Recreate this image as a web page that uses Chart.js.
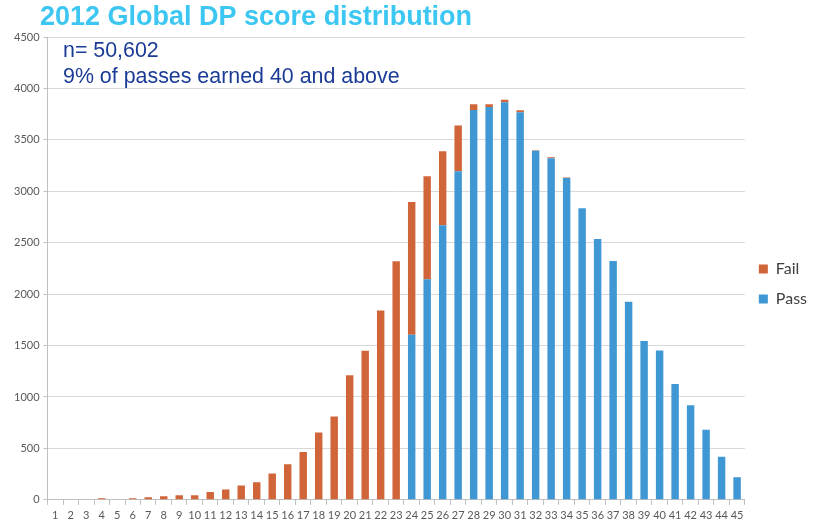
<!DOCTYPE html>
<html>
<head>
<meta charset="utf-8">
<script src="https://cdn.jsdelivr.net/npm/chart.js@4/dist/chart.umd.min.js"></script>
<style>
  body { margin: 0; background: #fff; }
  #wrap { width: 829px; height: 526px; }
</style>
</head>
<body>
<div id="wrap"><canvas id="myChart" width="829" height="526"></canvas></div>
<script>
// scores 1..45
var scores = ["1","2","3","4","5","6","7","8","9","10","11","12","13","14","15",
	"16","17","18","19","20","21","22","23","24","25","26","27","28","29","30",
	"31","32","33","34","35","36","37","38","39","40","41","42","43","44","45"];

var fail_counts = [0, 5, 5, 15, 5, 15, 25, 35, 45, 45, 75, 100, 140, 170, 255,
	345, 465, 655, 810, 1210, 1450, 1840, 2320, 1290, 1000, 720, 445, 55, 25, 25,
	20, 5, 10, 5, 0, 0, 0, 0, 0, 0, 0, 0, 0, 0, 0];

var pass_counts = [0, 0, 0, 0, 0, 0, 0, 0, 0, 0, 0, 0, 0, 0, 0,
	0, 0, 0, 0, 0, 0, 0, 0, 1605, 2145, 2670, 3195, 3790, 3820, 3865,
	3768, 3395, 3320, 3128, 2835, 2535, 2323, 1925, 1545, 1452, 1126, 920, 680, 419, 220];

var y_ticks = [0, 500, 1000, 1500, 2000, 2500, 3000, 3500, 4000, 4500];

var chart_title = "2012 Global DP score distribution";
var note_lines = ["n= 50,602", "9% of passes earned 40 and above"];

// title + note drawn on top of the canvas
var textPlugin = {
	id: 'textPlugin',
	afterDraw: function(chart) {
		var c = chart.ctx;
		c.save();
		c.textBaseline = 'middle';
		c.textAlign = 'left';
		c.font = 'bold 27px "Liberation Sans", Arial, sans-serif';
		c.fillStyle = '#3cc6f2';
		c.fillText(chart_title, 40, 18);
		c.font = '21.4px "Liberation Sans", Arial, sans-serif';
		c.fillStyle = '#1b3c96';
		c.fillText(note_lines[0], 63, 51);
		c.fillText(note_lines[1], 63, 77);
		c.restore();
	}
};

var ctx = document.getElementById("myChart");
var myChart = new Chart(ctx, {
	type: 'bar',
	plugins: [textPlugin],
	data: {
		labels: scores,
		datasets: [{
			label: 'Pass',
			data: pass_counts,
			backgroundColor: '#3f97d4',
			barPercentage: 0.48,
			categoryPercentage: 1.0
		}, {
			label: 'Fail',
			data: fail_counts,
			backgroundColor: '#d1653a',
			barPercentage: 0.48,
			categoryPercentage: 1.0
		}]
	},
	options: {
		responsive: false,
		animation: false,
		layout: {
			padding: { top: 37, left: 10, right: 12, bottom: 0 }
		},
		plugins: {
			title: { display: false },
			tooltip: { enabled: false },
			legend: {
				position: 'right',
				reverse: true,
				title: { display: true, text: '', padding: 0, font: { size: 4 } },
				labels: {
					boxWidth: 9,
					boxHeight: 9,
					padding: 14,
					color: '#404040',
					font: { family: 'Lato', size: 16 }
				}
			}
		},
		scales: {
			x: {
				stacked: true,
				grid: {
					display: true,
					drawOnChartArea: false,
					drawTicks: true,
					tickLength: 5,
					color: '#bfbfbf',
					offset: true
				},
				border: { color: '#bfbfbf' },
				ticks: {
					color: '#595959',
					font: { family: 'Lato', size: 11 },
					maxRotation: 0,
					autoSkip: false,
					padding: 4
				}
			},
			y: {
				stacked: true,
				min: 0,
				max: 4500,
				afterBuildTicks: function(axis) {
					axis.ticks = y_ticks.map(function(v) { return { value: v }; });
				},
				grid: {
					color: '#d9d9d9',
					tickLength: 4,
					tickColor: '#bfbfbf'
				},
				border: { color: '#bfbfbf' },
				ticks: {
					color: '#595959',
					font: { family: 'Lato', size: 11 },
					padding: 4,
					callback: function(v) { return String(v); }
				}
			}
		}
	}
});
</script>
</body>
</html>
